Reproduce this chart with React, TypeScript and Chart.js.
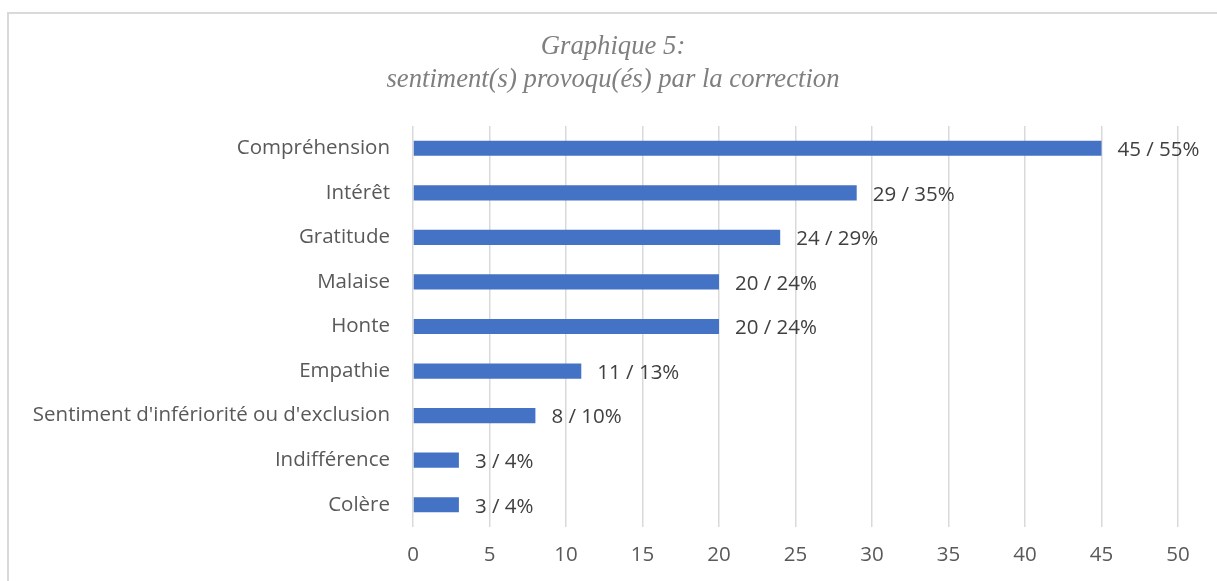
import React, { useEffect, useRef } from "react";
import { Chart, registerables } from "chart.js";

Chart.register(...registerables);

const categories = [
  "Compréhension",
  "Intérêt",
  "Gratitude",
  "Malaise",
  "Honte",
  "Empathie",
  "Sentiment d'infériorité ou d'exclusion",
  "Indifférence",
  "Colère",
];
const counts = [45, 29, 24, 20, 20, 11, 8, 3, 3];
const percents = [55, 35, 29, 24, 24, 13, 10, 4, 4];
const titleLines = ["Graphique 5:", "sentiment(s) provoqu(és) par la correction"];

const FONT = "'Open Sans', 'Noto Sans', sans-serif";

const labelPlugin = {
  id: "barLabels",
  afterDatasetsDraw(chart: any) {
    const ctx = chart.ctx;
    const meta = chart.getDatasetMeta(0);
    ctx.save();
    ctx.font = `20.5px ${FONT}`;
    ctx.fillStyle = "#404040";
    ctx.textAlign = "left";
    ctx.textBaseline = "middle";
    meta.data.forEach((bar: any, i: number) => {
      ctx.fillText(`${counts[i]} / ${percents[i]}%`, bar.x + 16, bar.y + 2);
    });
    ctx.restore();
  },
};

const titlePlugin = {
  id: "customTitle",
  afterDraw(chart: any) {
    const ctx = chart.ctx;
    ctx.save();
    ctx.font = `italic 26.7px 'Liberation Serif', 'Times New Roman', serif`;
    ctx.fillStyle = "#7f7f7f";
    ctx.textAlign = "center";
    ctx.textBaseline = "middle";
    titleLines.forEach((line, i) => {
      ctx.fillText(line, 613, 47 + i * 33);
    });
    ctx.restore();
  },
};

export default function App() {
  const ref = useRef<HTMLCanvasElement>(null);
  useEffect(() => {
    if (!ref.current) return;
    const chart = new Chart(ref.current, {
      type: "bar",
      data: {
        labels: categories,
        datasets: [
          {
            data: counts,
            backgroundColor: "#4472C4",
            categoryPercentage: 1,
            barPercentage: 0.34,
          },
        ],
      },
      options: {
        indexAxis: "y",
        animation: false,
        responsive: false,
        layout: { padding: { left: 0, right: 39, top: 126, bottom: 0 } },
        plugins: {
          legend: { display: false },
          tooltip: { enabled: false },
          title: { display: false },
        },
        scales: {
          x: {
            min: 0,
            max: 50,
            ticks: { stepSize: 5, color: "#595959", font: { family: FONT, size: 20.5 }, padding: 16 },
            grid: { color: "#d9d9d9", lineWidth: 1.5, drawTicks: false },
            border: { display: false },
            afterFit: (scale: any) => {
              scale.height = 54;
            },
          },
          y: {
            ticks: { color: "#595959", font: { family: FONT, size: 20.5 }, padding: 23 },
            grid: { display: false, drawTicks: false },
            border: { display: false },
            afterFit: (scale: any) => {
              scale.width = 413;
            },
          },
        },
      },
      plugins: [labelPlugin, titlePlugin],
    });
    return () => chart.destroy();
  }, []);
  return (
    <div style={{ position: "fixed", left: 0, top: 0, width: 1217, height: 581, overflow: "hidden", background: "#fff" }}>
      <div style={{ position: "absolute", left: 7, top: 12, width: 1240, height: 600, border: "2px solid #d9d9d9", boxSizing: "border-box" }} />
      <canvas ref={ref} width={1217} height={581} style={{ position: "absolute", left: 0, top: 0 }} />
    </div>
  );
}
